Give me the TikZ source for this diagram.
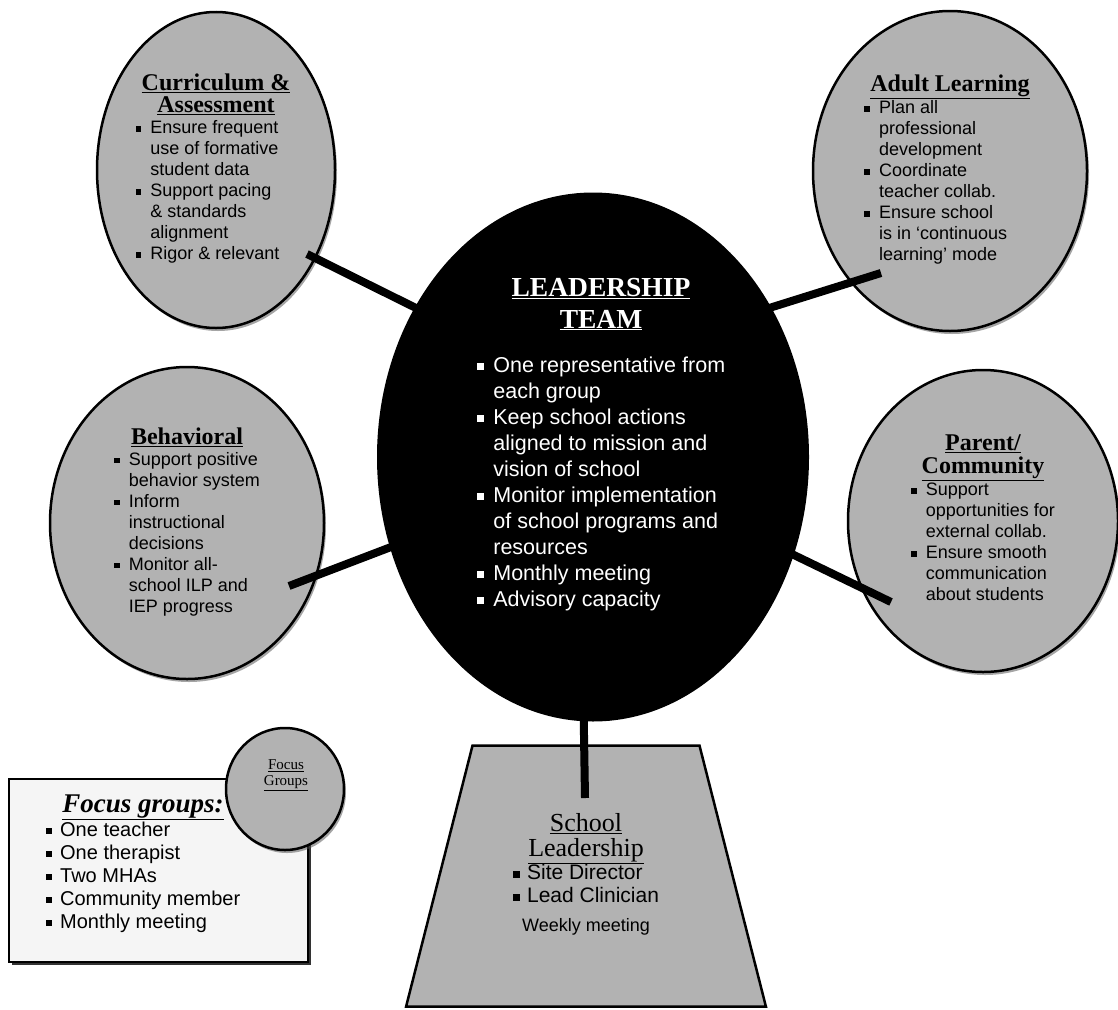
\documentclass[tikz,border=0pt]{standalone}
\usepackage{fontspec}
\setmainfont{Liberation Serif}
\setsansfont{Liberation Sans}
\usetikzlibrary{shapes.geometric,shadows}

\definecolor{grpgray}{gray}{0.70}
\definecolor{boxgray}{gray}{0.96}

% square bullet, takes the text colour
\newcommand{\sqb}{\rule[0.1em]{0.32em}{0.32em}}
\newcommand{\grptitle}[1]{{\rmfamily\bfseries\fontsize{24}{25}\selectfont\underline{#1}}}
\newcommand{\leadtitle}[1]{{\rmfamily\bfseries\fontsize{27.5}{30}\selectfont\underline{#1}}}
\newcommand{\schtitle}[1]{{\rmfamily\fontsize{26}{26}\selectfont\underline{#1}}}

\tikzset{
  grp/.style={ellipse, draw, line width=2.5pt, fill=grpgray, inner sep=0pt,
    drop shadow={shadow xshift=2pt, shadow yshift=-3pt, fill=black!70},
    font=\sffamily\fontsize{18}{21}\selectfont},
  lead/.style={ellipse, fill=black, inner sep=0pt,
    minimum width=432pt, minimum height=529pt},
  leadtxt/.style={text=white, inner sep=0pt,
    font=\sffamily\fontsize{21.5}{26}\selectfont},
  school/.style={trapezium, trapezium stretches=true, trapezium angle=71.2,
    minimum width=360pt, minimum height=261pt, draw, line width=2.5pt,
    fill=grpgray, inner sep=0pt, font=\sffamily\fontsize{21}{23}\selectfont},
  fgbox/.style={rectangle, draw, line width=2pt, fill=boxgray,
    drop shadow={shadow xshift=3pt, shadow yshift=-3pt, fill=black!80, opacity=1}},
  fgtxt/.style={inner sep=0pt, font=\sffamily\fontsize{20}{23}\selectfont},
  link/.style={line width=8pt, shorten >=-8pt}
}

\begin{document}
\begin{tikzpicture}[x=1pt,y=-1pt]
  \useasboundingbox (0,0) rectangle (1118,1009);

  % four group circles
  \node[grp, minimum width=238pt, minimum height=316pt] (cur) at (216,170) {%
    \begin{tabular}{@{}l@{\hspace{0.5em}}l@{}}
      \multicolumn{2}{c}{\grptitle{Curriculum \&}}\\
      \multicolumn{2}{c}{\grptitle{Assessment}}\\
      \sqb & Ensure frequent\\
           & use of formative\\
           & student data\\
      \sqb & Support pacing\\
           & \& standards\\
           & alignment\\
      \sqb & Rigor \& relevant
    \end{tabular}};
  \node[grp, minimum width=274pt, minimum height=320pt] (adult) at (950,171) {%
    \begin{tabular}{@{}l@{\hspace{0.5em}}l@{}}
      \multicolumn{2}{c}{\grptitle{Adult Learning}}\\
      \sqb & Plan all\\
           & professional\\
           & development\\
      \sqb & Coordinate\\
           & teacher collab.\\
      \sqb & Ensure school\\
           & is in ‘continuous\\
           & learning’ mode
    \end{tabular}};
  \node[grp, minimum width=274pt, minimum height=312pt] (behav) at (187,523) {%
    \begin{tabular}{@{}l@{\hspace{0.5em}}l@{}}
      \multicolumn{2}{c}{\grptitle{Behavioral}}\\
      \sqb & Support positive\\
           & behavior system\\
      \sqb & Inform\\
           & instructional\\
           & decisions\\
      \sqb & Monitor all-\\
           & school ILP and\\
           & IEP progress
    \end{tabular}};
  \node[grp, minimum width=270pt, minimum height=302pt] (parent) at (983,521) {%
    \begin{tabular}{@{}l@{\hspace{0.5em}}l@{}}
      \multicolumn{2}{c}{\grptitle{Parent/}}\\
      \multicolumn{2}{c}{\grptitle{Community}}\\
      \sqb & Support\\
           & opportunities for\\
           & external collab.\\
      \sqb & Ensure smooth\\
           & communication\\
           & about students
    \end{tabular}};

  % leadership team
  \node[lead] (lead) at (593,457) {};
  \node[leadtxt] (leadtxt) at (601,446) {%
    \begin{tabular}{@{}l@{\hspace{0.45em}}l@{}}
      \multicolumn{2}{c}{\leadtitle{LEADERSHIP}}\\[6pt]
      \multicolumn{2}{c}{\leadtitle{TEAM}}\\[18pt]
      \sqb & One representative from\\
           & each group\\
      \sqb & Keep school actions\\
           & aligned to mission and\\
           & vision of school\\
      \sqb & Monitor implementation\\
           & of school programs and\\
           & resources\\
      \sqb & Monthly meeting\\
      \sqb & Advisory capacity
    \end{tabular}};

  % school leadership base
  \node[school] (school) at (586,876) {%
    \begin{tabular}{@{}l@{\hspace{0.35em}}l@{}}
      \multicolumn{2}{c}{\schtitle{School}}\\
      \multicolumn{2}{c}{\schtitle{Leadership}}\\
      \sqb & Site Director\\
      \sqb & Lead Clinician\\[6pt]
      \multicolumn{2}{c}{\fontsize{18}{21}\selectfont Weekly meeting}
    \end{tabular}};

  % focus groups box and its tag
  \node[fgbox, minimum width=299pt, minimum height=183pt] (fgbox) at (158,870) {};
  \node[fgtxt] (fgtxt) at (143,865) {%
    \begin{tabular}{@{}l@{\hspace{0.4em}}l@{}}
      \multicolumn{2}{c}{\rmfamily\bfseries\itshape\fontsize{27}{27}\selectfont\underline{Focus groups:}}\\[1pt]
      \sqb & One teacher\\
      \sqb & One therapist\\
      \sqb & Two MHAs\\
      \sqb & Community member\\
      \sqb & Monthly meeting
    \end{tabular}};
  \node[grp, minimum width=118pt, minimum height=122pt] (fgcirc) at (285,789) {};
  \node[align=center, inner sep=0pt, font=\rmfamily\fontsize{15}{16}\selectfont]
    (fgtag) at (286,775) {\underline{Focus}\\\underline{Groups}};

  % spokes into the leadership team
  \coordinate (cur-end) at (307,254);
  \coordinate (adult-end) at (881,273);
  \coordinate (behav-end) at (289,586);
  \coordinate (parent-end) at (891,602);
  \coordinate (stem) at (585,798);
  \draw[link] (cur-end) -- (lead.140);
  \draw[link] (adult-end) -- (lead.40);
  \draw[link] (behav-end) -- (lead.204);
  \draw[link] (parent-end) -- (lead.334);
  \draw[link] (stem) -- (lead.268);
\end{tikzpicture}
\end{document}
